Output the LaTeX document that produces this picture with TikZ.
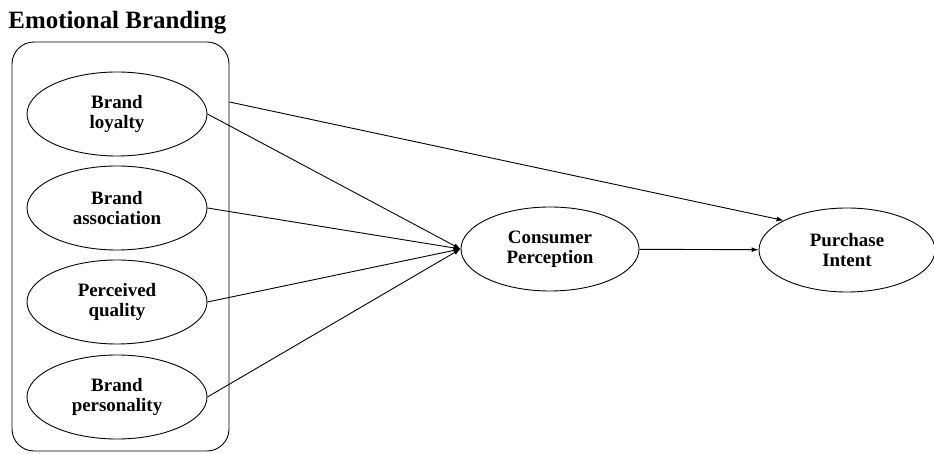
\documentclass[tikz,border=0pt]{standalone}
\usepackage{fontspec}
\setmainfont{Liberation Serif}
\usetikzlibrary{shapes.geometric,arrows.meta}
\begin{document}
\begin{tikzpicture}[x=1bp,y=-1bp,line width=0.9bp,
	construct/.style={draw,ellipse,minimum width=180bp,minimum height=84bp,inner sep=0pt,align=center,font=\fontsize{19}{20}\selectfont\bfseries},
	link/.style={-{Latex[length=7bp,width=5bp]}}]
	\useasboundingbox (0,0) rectangle (934,454);
	% emotional branding group
	\node[anchor=base west,inner sep=0pt,font=\fontsize{25}{27}\selectfont\bfseries] (title) at (8,29) {Emotional Branding};
	\node[draw,rounded corners=22bp,minimum width=217bp,minimum height=409bp,inner sep=0pt] (group) at (120.5,246.5) {};
	\node[construct] (loyalty) at (117,114) {Brand\\loyalty};
	\node[construct] (assoc) at (117,208) {Brand\\association};
	\node[construct] (quality) at (117,302) {Perceived\\quality};
	\node[construct] (persona) at (117,397) {Brand\\personality};
	% outcomes
	\node[construct,minimum width=178bp] (percep) at (550,249) {Consumer\\Perception};
	\node[construct,minimum width=176bp] (intent) at (847,250) {Purchase\\Intent};
	\coordinate (gout) at (group.east |- 0,102);
	% links
	\foreach \n in {loyalty,assoc,quality,persona}
		\draw[link] (\n.east) -- (percep.west);
	\draw[link] (percep) -- (intent);
	\draw[link] (gout) -- (intent.155);
\end{tikzpicture}
\end{document}
